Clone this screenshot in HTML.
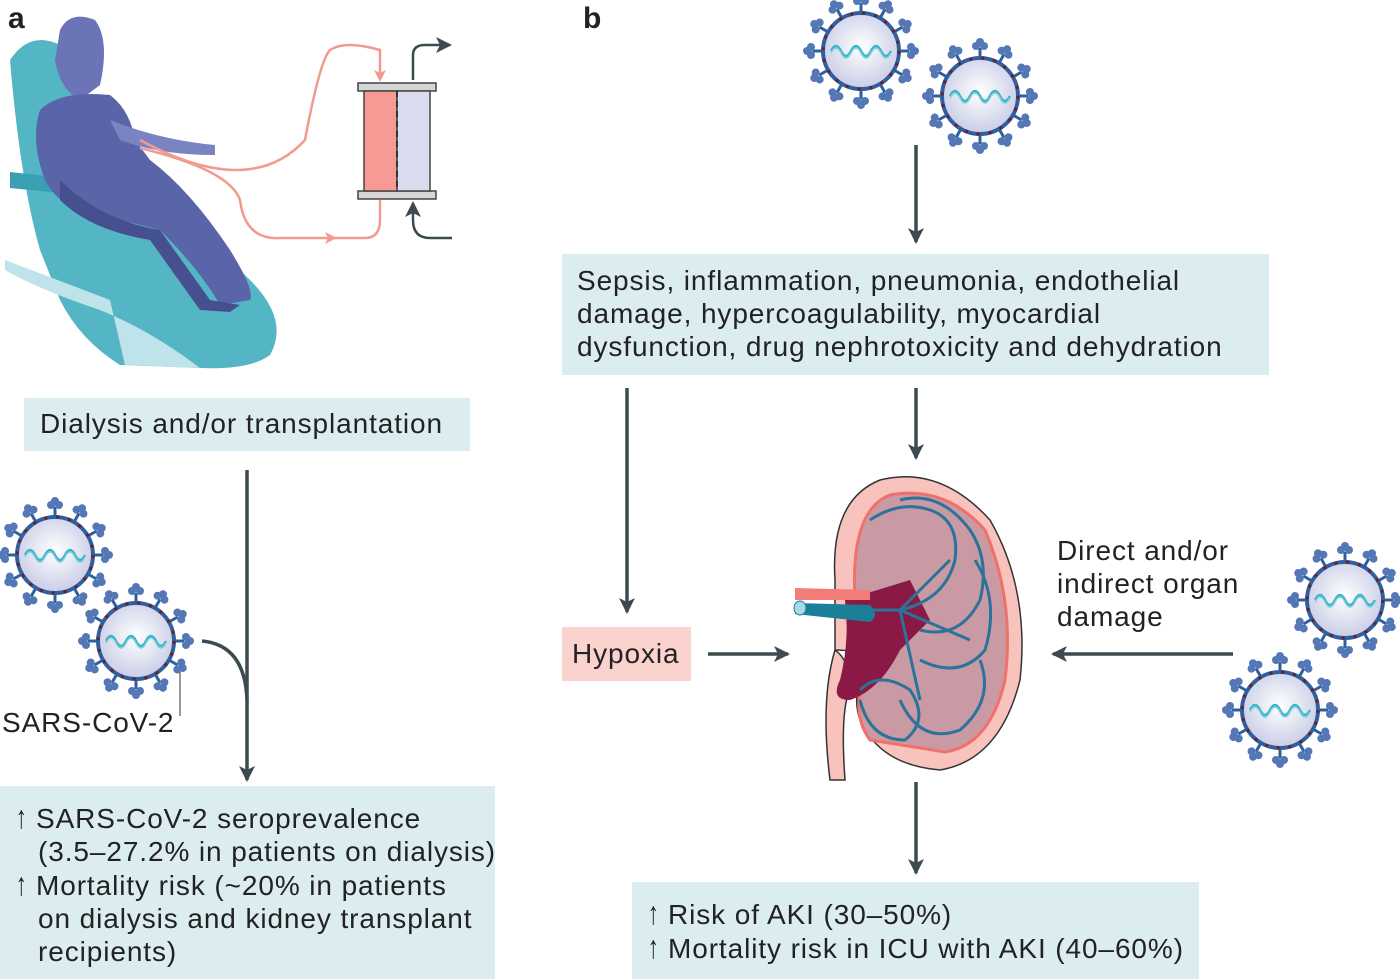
<!DOCTYPE html>
<html><head><meta charset="utf-8"><style>
body{margin:0;width:1400px;height:979px;background:#fff;overflow:hidden;position:relative;font-family:"Liberation Sans",sans-serif;color:#222}
.box{position:absolute;background:#dcedf2;font-size:28px;line-height:33px;box-sizing:border-box;letter-spacing:0.9px;white-space:nowrap}
.t{position:absolute;font-size:28px;line-height:33px;letter-spacing:0.9px}
.up{font-size:32px;display:inline-block;width:24px;transform:scaleX(0.7)}
</style></head><body>
<svg width="1400" height="979" style="position:absolute;left:0;top:0">
<defs>
<radialGradient id="vg" cx="50%" cy="45%" r="55%"><stop offset="0" stop-color="#ffffff"/><stop offset="1" stop-color="#c9cde6"/></radialGradient>
<g id="spk"><line x1="0" y1="-38" x2="0" y2="-48" stroke="#2f5f9e" stroke-width="3"/><circle cx="-4" cy="-50" r="4" fill="#5477b6"/><circle cx="4" cy="-50" r="4" fill="#5477b6"/><circle cx="0" cy="-54" r="4" fill="#5477b6"/></g>
<g id="virus">
<use href="#spk"/><use href="#spk" transform="rotate(30)"/><use href="#spk" transform="rotate(60)"/><use href="#spk" transform="rotate(90)"/><use href="#spk" transform="rotate(120)"/><use href="#spk" transform="rotate(150)"/><use href="#spk" transform="rotate(180)"/><use href="#spk" transform="rotate(210)"/><use href="#spk" transform="rotate(240)"/><use href="#spk" transform="rotate(270)"/><use href="#spk" transform="rotate(300)"/><use href="#spk" transform="rotate(330)"/>
<circle r="38" fill="url(#vg)" stroke="#2f5f9e" stroke-width="4"/>
<circle r="38" fill="none" stroke="#6b1f2a" stroke-width="3" stroke-dasharray="3 9"/>
<path d="M-30 0 q5 -10 10 0 t10 0 t10 0 t10 0 t10 0 t10 0" fill="none" stroke="#3bb4c8" stroke-width="2.5"/>
<path d="M-30 2 q5 -10 10 0 t10 0 t10 0 t10 0 t10 0 t10 0" fill="none" stroke="#7fd0dc" stroke-width="1.5"/>
</g>
<marker id="ar2" markerWidth="16" markerHeight="16" refX="14" refY="8" orient="auto" markerUnits="userSpaceOnUse"><path d="M0 0L16 8L0 16L4 8z" fill="#3d4a4f"/></marker>
<marker id="arp" markerWidth="12" markerHeight="12" refX="10" refY="6" orient="auto" markerUnits="userSpaceOnUse"><path d="M0 0L12 6L0 12L3 6z" fill="#f29a90"/></marker>
</defs>
<use href="#virus" transform="translate(861,51)"/>
<use href="#virus" transform="translate(980,96)"/>
<use href="#virus" transform="translate(55,555)"/>
<use href="#virus" transform="translate(136,641)"/>
<use href="#virus" transform="translate(1345,600)"/>
<use href="#virus" transform="translate(1280,710)"/>
<line x1="180" y1="672" x2="180" y2="716" stroke="#555" stroke-width="1.2"/>
<g stroke="#3d4a4f" stroke-width="3.5" fill="none">
<line x1="247" y1="470" x2="247" y2="780" marker-end="url(#ar2)"/>
<path d="M202 641 Q245 645 247 700"/>
<line x1="916" y1="145" x2="916" y2="242" marker-end="url(#ar2)"/>
<line x1="916" y1="388" x2="916" y2="458" marker-end="url(#ar2)"/>
<line x1="627" y1="388" x2="627" y2="612" marker-end="url(#ar2)"/>
<line x1="708" y1="654" x2="788" y2="654" marker-end="url(#ar2)"/>
<line x1="1233" y1="654" x2="1053" y2="654" marker-end="url(#ar2)"/>
<line x1="916" y1="782" x2="916" y2="873" marker-end="url(#ar2)"/>
<path d="M413 80 V55 Q413 45 425 45 H450" marker-end="url(#ar2)" stroke-width="2.5"/>
<path d="M452 238 H430 Q413 238 413 220 V203" marker-end="url(#ar2)" stroke-width="2.5"/>
</g>
<!-- chair -->
<path d="M10 60 Q30 30 60 45 L90 160 L150 190 Q200 230 250 280 Q290 320 270 355 Q250 370 200 368 L120 365 Q80 340 60 300 L40 250 Q20 180 10 60z" fill="#54b6c4"/>
<path d="M5 260 L110 300 L125 365 L200 368 Q150 330 100 310 Q40 290 5 270z" fill="#bfe3ea"/>
<path d="M10 172 L130 185 L130 200 L10 188z" fill="#3a9fb0"/>
<!-- person -->
<path d="M60 30 Q70 10 95 20 Q110 40 100 85 L80 100 Q60 90 55 60z" fill="#6b74b7"/>
<path d="M40 110 Q60 90 110 95 Q130 110 135 140 L150 160 Q190 190 230 250 Q255 290 250 300 L220 305 Q200 270 160 230 L100 215 Q60 210 45 180 Q30 140 40 110z" fill="#5a64a8"/>
<path d="M110 120 Q160 140 215 145 L215 155 Q160 155 120 140z" fill="#7b84c2"/>
<path d="M60 180 Q100 220 160 230 L210 300 L240 305 L230 312 L200 310 L150 240 Q90 230 60 200z" fill="#46508f"/>
<g stroke="#f29a90" stroke-width="2.5" fill="none">
<path d="M140 140 Q250 200 305 140 Q320 60 330 50 Q345 40 380 50 L380 80" marker-end="url(#arp)"/>
<path d="M140 148 Q230 170 240 200 Q245 240 280 238 L335 238" marker-end="url(#arp)"/>
<path d="M335 238 H365 Q380 238 380 220 V200"/>
</g>
<rect x="358" y="83" width="78" height="8" fill="#d6d6d6" stroke="#444" stroke-width="1.5"/>
<rect x="358" y="191" width="78" height="8" fill="#d6d6d6" stroke="#444" stroke-width="1.5"/>
<rect x="364" y="91" width="33" height="100" fill="#f79a93" stroke="#444" stroke-width="1.5"/>
<rect x="397" y="91" width="33" height="100" fill="#d8dcee" stroke="#444" stroke-width="1.5"/>
<line x1="397" y1="91" x2="397" y2="191" stroke="#333" stroke-width="2" stroke-dasharray="6 4"/>
<!-- kidney -->
<path d="M835 580 Q830 500 880 480 Q940 465 990 520 Q1030 590 1020 680 Q1000 760 940 770 Q880 765 860 720 Q850 690 870 670 Q870 650 835 650 Q820 700 830 780 L845 780 Q840 710 850 690 Q850 660 835 650 Z" fill="#f9c3bd" stroke="#333" stroke-width="1.5"/>
<path d="M855 600 Q850 510 890 495 Q945 485 985 530 Q1015 600 1005 680 Q990 745 945 752 L870 740 Q855 720 860 690 Q870 660 860 640z" fill="#c99aa4" stroke="#f0706c" stroke-width="3"/>
<path d="M845 600 Q850 640 840 680 Q830 700 850 700 Q880 690 900 650 L930 620 L910 580 Z" fill="#8a1a45"/>
<g stroke="#2b7399" stroke-width="3" fill="none">
<path d="M870 520 Q900 500 930 510 Q960 520 955 560 Q945 600 900 610"/>
<path d="M900 500 Q940 490 970 530 Q990 560 980 600 Q960 640 920 630"/>
<path d="M975 560 Q1000 600 985 650 Q960 680 920 660"/>
<path d="M980 660 Q995 700 960 730 Q920 745 900 700"/>
<path d="M860 690 Q880 670 910 690 Q930 720 905 740 Q870 740 860 700"/>
<path d="M830 610 L900 610 L950 560 M900 610 L970 640 M900 610 L920 700"/>
</g>
<path d="M795 588 L870 590 L870 600 L795 600z" fill="#f37b78"/>
<path d="M795 603 L870 605 Q880 615 870 622 L795 614z" fill="#1c7f9a"/>
<ellipse cx="800" cy="608" rx="6" ry="7" fill="#a6dbe6" stroke="#1c7f9a"/>
</svg>
<div style="position:absolute;left:8px;top:2px;font-size:30px;font-weight:bold">a</div>
<div style="position:absolute;left:583px;top:2px;font-size:30px;font-weight:bold">b</div>
<div class="box" style="left:24px;top:398px;width:446px;height:53px;padding:9px 0 0 16px">Dialysis and/or transplantation</div>
<div class="t" style="left:2px;top:706px">SARS-CoV-2</div>
<div class="box" style="left:0;top:786px;width:495px;height:193px;padding:15px 0 0 12px"><span class="up">↑</span>SARS-CoV-2 seroprevalence<br>&nbsp;&nbsp;&nbsp;(3.5–27.2% in patients on dialysis)<br><span class="up">↑</span>Mortality risk (~20% in patients<br>&nbsp;&nbsp;&nbsp;on dialysis and kidney transplant<br>&nbsp;&nbsp;&nbsp;recipients)</div>
<div class="box" style="left:562px;top:254px;width:707px;height:121px;padding:10px 0 0 15px">Sepsis, inflammation, pneumonia, endothelial<br>damage, hypercoagulability, myocardial<br>dysfunction, drug nephrotoxicity and dehydration</div>
<div class="box" style="left:562px;top:627px;width:129px;height:54px;padding:10px 0 0 10px;background:#fbd3ce">Hypoxia</div>
<div class="t" style="left:1057px;top:534px">Direct and/or<br>indirect organ<br>damage</div>
<div class="box" style="left:632px;top:882px;width:567px;height:97px;padding:15px 0 0 12px"><span class="up">↑</span>Risk of AKI (30–50%)<br><span class="up">↑</span>Mortality risk in ICU with AKI (40–60%)</div>
</body></html>
